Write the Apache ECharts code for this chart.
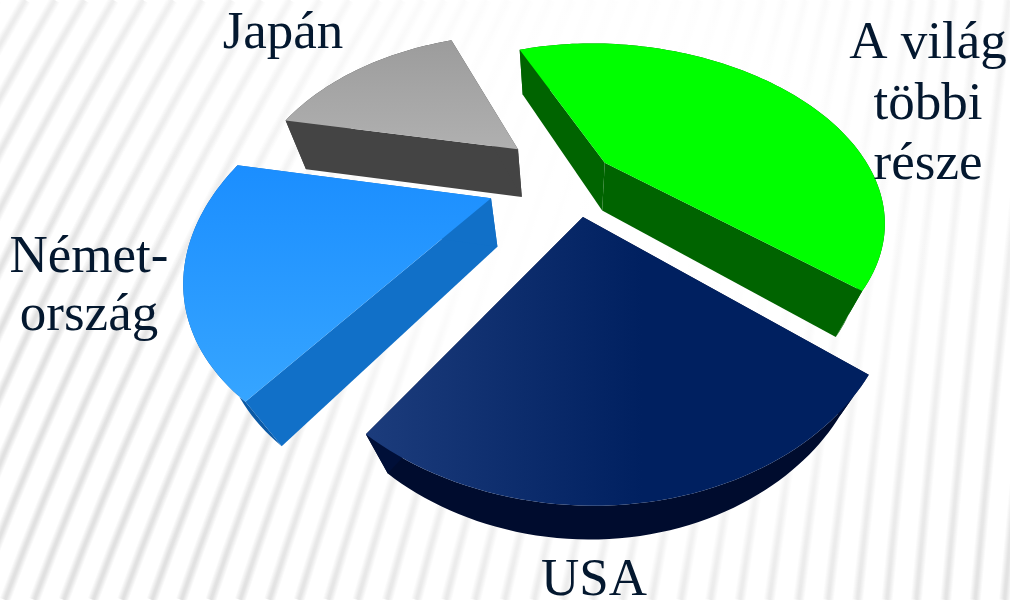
<!DOCTYPE html>
<html>
<head>
<meta charset="utf-8">
<style>html,body{margin:0;padding:0;background:#fff}#chart{width:1010px;height:600px}</style>
<script src="https://cdn.jsdelivr.net/npm/echarts@6/dist/echarts.min.js"></script>
</head>
<body>
<div id="chart"></div>
<script>
// Shares in percent, clockwise from the upper edge of the green slice
const categories = ['A világ többi része', 'USA', 'Németország', 'Japán'];
const shares = [42.4, 22.7, 18.9, 16.0];

// Label lines per slice, as they wrap on the page
const labelLines = [['A világ', 'többi', 'része'], ['USA'], ['Német-', 'ország'], ['Japán']];

// Ground-plane geometry of the tilted pie
const startAngle = 243.7;
const radius = 0.515;
const pieCentre = [-0.1, -1.67];
const explodeDistance = [0.12, 0.108, 0.116, 0.13];
const explodeBearing = [320, 55.6, 152.8, 233.7];

// Camera: horizon, vanishing point of the vertical edges, roll
const camera = { scale: 920, xc: 618, horizon: 401.6, cos: 0.998, sin: 0.062, nadir: [570, 800], thickness: 1.42e-4 };

// Appearance per slice
const topFills = [
  ['#00ff00', '#00ff00', 0],
  ['#1c3c7c', '#002060', 0],
  ['#1b8eff', '#36a5ff', 1],
  ['#9c9c9c', '#b0b0b0', 1]
];
const edgeFills = ['#006400', '#000f38', '#1170c8', '#444444'];
const rimFills = ['#006400', '#000c2e', '#0b5aa6', '#444444'];
const depthScale = [1, 0.93, 1, 1];
const labelAnchors = [[928, 18, 60.5], [594, 555, 0], [89, 232, 58], [283, 8, 0]];

const rad = d => d * Math.PI / 180;

// The outline is a little flatter toward the left and fuller toward the front
function outline(deg) {
  const flat = Math.pow((1 + Math.cos(rad(deg - 186))) / 2, 4);
  const full = Math.pow((1 + Math.cos(rad(deg - 80))) / 2, 12);
  return radius * (1 - 0.085 * flat + 0.022 * full);
}

// Ground-plane point to top-surface pixel
function project(x, y) {
  const d = -camera.scale / y;
  const xr = camera.xc + x * d;
  const yr = d - camera.horizon;
  return { p: [camera.cos * xr - camera.sin * yr, camera.sin * xr + camera.cos * yr], d };
}

// Pixel of the same point on the underside, drawn toward the vanishing point
function lower(pt, depth) {
  const k = camera.thickness * depth * pt.d;
  return [pt.p[0] + k * (camera.nadir[0] - pt.p[0]), pt.p[1] + k * (camera.nadir[1] - pt.p[1])];
}

const total = shares.reduce((s, v) => s + v, 0);

function renderSlice(params, api) {
  const i = params.dataIndex;
  const before = shares.slice(0, i).reduce((s, v) => s + v, 0);
  const a0 = startAngle + before / total * 360;
  const a1 = a0 + api.value(0) / total * 360;
  const ox = pieCentre[0] + explodeDistance[i] * Math.cos(rad(explodeBearing[i]));
  const oy = pieCentre[1] + explodeDistance[i] * Math.sin(rad(explodeBearing[i]));
  const apex = project(ox, oy);
  const arc = [];
  const steps = Math.ceil((a1 - a0) / 1.5);
  for (let s = 0; s <= steps; s++) {
    const deg = a0 + (a1 - a0) * s / steps;
    const r = outline(deg);
    arc.push(project(ox + r * Math.cos(rad(deg)), oy + r * Math.sin(rad(deg))));
  }
  const depth = depthScale[i];
  const edge = (a, b) => ({
    type: 'polygon',
    shape: { points: [a.p, b.p, lower(b, depth), lower(a, depth)] },
    style: { fill: edgeFills[i] }
  });
  const f = topFills[i];
  const grad = f[2]
    ? new echarts.graphic.LinearGradient(0, 0, 0, 1, [{ offset: 0, color: f[0] }, { offset: 1, color: f[1] }])
    : new echarts.graphic.LinearGradient(0, 0, 1, 0, [{ offset: 0, color: f[0] }, { offset: 0.55, color: f[1] }, { offset: 1, color: f[1] }]);
  const rimPoints = arc.map(q => q.p).concat(arc.slice().reverse().map(q => lower(q, depth)));
  return {
    type: 'group',
    children: [
      { type: 'polygon', shape: { points: rimPoints }, style: { fill: rimFills[i] } },
      edge(apex, arc[0]),
      edge(apex, arc[arc.length - 1]),
      { type: 'polygon', shape: { points: [apex.p].concat(arc.map(q => q.p)) }, style: { fill: grad } }
    ]
  };
}

// Soft curved stripes: they lean strongly on the left and stand nearly upright on the right
function stripes() {
  const out = [];
  for (let xb = 5 - 29.4 * 30; xb < 1100; xb += 29.4) {
    const u = Math.min(1, Math.max(0, (xb - 100) / 800));
    const lowSlope = 0.37 - 0.28 * u;
    const highSlope = 0.58 - 0.46 * u;
    const points = [];
    for (let h = 0; h <= 600; h += 50) {
      points.push([xb + lowSlope * h + (highSlope - lowSlope) * h * h / 1200, 600 - h]);
    }
    [11, 9, 7, 5, 3].forEach(w => {
      out.push({
        type: 'polyline', silent: true, z: 0,
        shape: { points },
        style: { stroke: '#000000', fill: null, lineWidth: w, opacity: 0.022 }
      });
    });
  }
  // Lighter around the pie and toward the top of the page
  out.push({
    type: 'rect', silent: true, z: 1,
    shape: { x: 0, y: 0, width: 1010, height: 600 },
    style: {
      fill: new echarts.graphic.RadialGradient(0.62, 0.33, 1, [
        { offset: 0, color: 'rgba(255,255,255,1)' },
        { offset: 0.3, color: 'rgba(255,255,255,0.95)' },
        { offset: 0.5, color: 'rgba(255,255,255,0.7)' },
        { offset: 0.65, color: 'rgba(255,255,255,0.4)' },
        { offset: 0.9, color: 'rgba(255,255,255,0.05)' },
        { offset: 1, color: 'rgba(255,255,255,0)' }
      ])
    }
  });
  out.push({
    type: 'rect', silent: true, z: 1,
    shape: { x: 0, y: 0, width: 1010, height: 320 },
    style: {
      fill: new echarts.graphic.LinearGradient(0, 0, 0, 1, [
        { offset: 0, color: 'rgba(255,255,255,0.4)' },
        { offset: 1, color: 'rgba(255,255,255,0)' }
      ])
    }
  });
  return out;
}

function labels() {
  const out = [];
  labelLines.forEach((lines, i) => {
    const [x, y, step] = labelAnchors[i];
    lines.forEach((line, j) => {
      out.push({
        type: 'text', silent: true, z: 20, x, y: y + j * step,
        style: {
          text: line, fill: '#04182f', align: 'center', verticalAlign: 'top',
          font: '53px "Liberation Serif", serif'
        }
      });
    });
  });
  return out;
}

const chart = echarts.init(document.getElementById('chart'));
chart.setOption({
  animation: false,
  backgroundColor: '#ffffff',
  graphic: { elements: stripes().concat(labels()) },
  series: [{
    type: 'custom',
    coordinateSystem: 'none',
    z: 10,
    renderItem: renderSlice,
    data: shares.map((v, i) => ({ name: categories[i], value: [v] }))
  }]
});
</script>
</body>
</html>
